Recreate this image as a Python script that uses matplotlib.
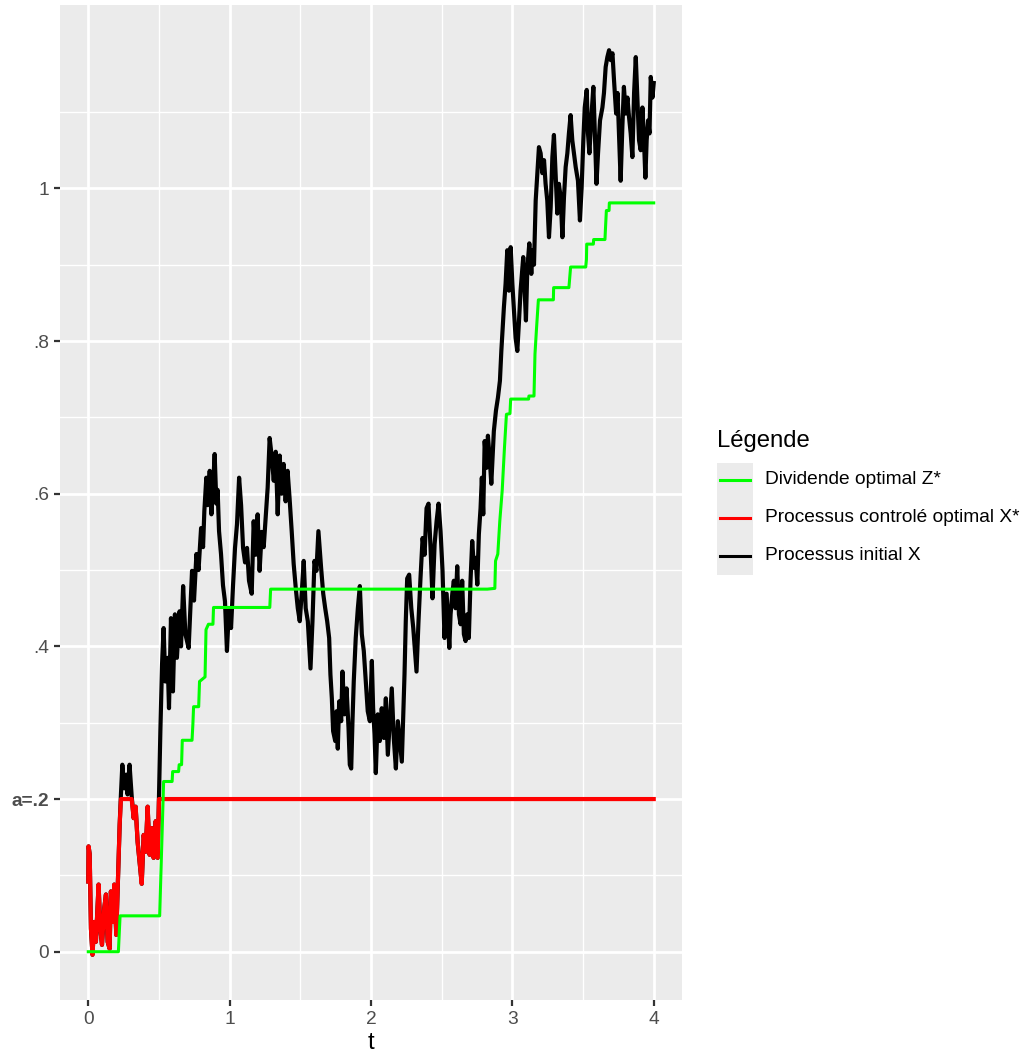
import matplotlib
matplotlib.use("Agg")
import matplotlib.pyplot as plt
from matplotlib.lines import Line2D
from matplotlib.patches import Rectangle

plt.rcParams['font.family'] = ['Liberation Sans', 'DejaVu Sans']

# --- Data ---
# Processus initial X (black path)
x_t = [0.000, 0.002, 0.010, 0.019, 0.030, 0.042, 0.054, 0.073, 0.085, 0.097,
       0.113, 0.125, 0.137, 0.151, 0.160, 0.175, 0.184, 0.198, 0.208, 0.222,
       0.231, 0.241, 0.255, 0.269, 0.278, 0.292, 0.307, 0.321, 0.335, 0.349,
       0.363, 0.378, 0.392, 0.406, 0.420, 0.434, 0.448, 0.462, 0.477, 0.491,
       0.500, 0.510, 0.522, 0.533, 0.545, 0.561, 0.571, 0.585, 0.599, 0.613,
       0.627, 0.646, 0.656, 0.671, 0.687, 0.710, 0.734, 0.748, 0.765, 0.780,
       0.798, 0.812, 0.821, 0.835, 0.845, 0.859, 0.871, 0.883, 0.894, 0.906,
       0.915, 0.925, 0.939, 0.953, 0.967, 0.981, 0.995, 1.010, 1.024, 1.038,
       1.052, 1.067, 1.081, 1.095, 1.109, 1.123, 1.137, 1.156, 1.170, 1.184,
       1.198, 1.212, 1.227, 1.241, 1.255, 1.269, 1.283, 1.297, 1.312, 1.326,
       1.340, 1.354, 1.368, 1.382, 1.396, 1.410, 1.424, 1.439, 1.453, 1.468,
       1.482, 1.496, 1.510, 1.524, 1.538, 1.553, 1.572, 1.586, 1.600, 1.614,
       1.628, 1.647, 1.662, 1.676, 1.690, 1.704, 1.713, 1.723, 1.732, 1.747,
       1.756, 1.765, 1.775, 1.789, 1.798, 1.812, 1.827, 1.841, 1.850, 1.860,
       1.869, 1.878, 1.892, 1.907, 1.921, 1.935, 1.949, 1.963, 1.977, 1.992,
       2.006, 2.015, 2.025, 2.034, 2.048, 2.062, 2.076, 2.091, 2.105, 2.119,
       2.133, 2.147, 2.161, 2.176, 2.190, 2.204, 2.218, 2.228, 2.237, 2.246,
       2.256, 2.270, 2.285, 2.299, 2.313, 2.322, 2.336, 2.350, 2.365, 2.379,
       2.393, 2.407, 2.421, 2.435, 2.450, 2.464, 2.478, 2.492, 2.506, 2.520,
       2.535, 2.554, 2.563, 2.575, 2.586, 2.598, 2.610, 2.622, 2.634, 2.645,
       2.657, 2.669, 2.681, 2.692, 2.704, 2.716, 2.728, 2.740, 2.752, 2.763,
       2.775, 2.784, 2.794, 2.804, 2.818, 2.827, 2.841, 2.851, 2.860, 2.869,
       2.884, 2.898, 2.912, 2.922, 2.940, 2.952, 2.964, 2.976, 2.988, 3.000,
       3.011, 3.023, 3.035, 3.046, 3.058, 3.077, 3.087, 3.096, 3.106, 3.120,
       3.134, 3.143, 3.153, 3.165, 3.177, 3.188, 3.200, 3.212, 3.224, 3.235,
       3.247, 3.259, 3.271, 3.283, 3.294, 3.306, 3.318, 3.329, 3.342, 3.354,
       3.365, 3.377, 3.389, 3.400, 3.412, 3.424, 3.448, 3.464, 3.478, 3.490,
       3.502, 3.512, 3.526, 3.535, 3.545, 3.559, 3.573, 3.582, 3.595, 3.606,
       3.620, 3.637, 3.648, 3.660, 3.672, 3.684, 3.696, 3.708, 3.719, 3.734,
       3.744, 3.754, 3.766, 3.778, 3.789, 3.802, 3.814, 3.825, 3.837, 3.849,
       3.861, 3.873, 3.885, 3.896, 3.908, 3.920, 3.931, 3.941, 3.950, 3.960,
       3.970, 3.979, 3.991, 4.000]
x_val = [0.092, 0.138, 0.128, 0.030, -0.004, 0.039, 0.013, 0.088, 0.030, 0.009,
         0.057, 0.075, 0.013, 0.004, 0.079, 0.039, 0.088, 0.022, 0.083, 0.166,
         0.206, 0.245, 0.214, 0.232, 0.206, 0.245, 0.204, 0.175, 0.190, 0.144,
         0.118, 0.089, 0.153, 0.131, 0.190, 0.127, 0.162, 0.123, 0.171, 0.123,
         0.200, 0.289, 0.377, 0.424, 0.354, 0.385, 0.319, 0.437, 0.341, 0.442,
         0.385, 0.446, 0.400, 0.479, 0.416, 0.398, 0.499, 0.460, 0.521, 0.500,
         0.555, 0.530, 0.577, 0.621, 0.585, 0.630, 0.573, 0.610, 0.652, 0.587,
         0.605, 0.551, 0.521, 0.480, 0.459, 0.394, 0.450, 0.424, 0.480, 0.529,
         0.560, 0.621, 0.585, 0.529, 0.510, 0.529, 0.486, 0.469, 0.564, 0.520,
         0.573, 0.499, 0.550, 0.530, 0.568, 0.608, 0.673, 0.650, 0.617, 0.655,
         0.573, 0.650, 0.600, 0.639, 0.590, 0.630, 0.594, 0.551, 0.508, 0.476,
         0.450, 0.433, 0.470, 0.512, 0.450, 0.433, 0.371, 0.433, 0.512, 0.499,
         0.551, 0.503, 0.469, 0.450, 0.433, 0.411, 0.363, 0.332, 0.289, 0.276,
         0.315, 0.266, 0.328, 0.302, 0.367, 0.311, 0.345, 0.293, 0.245, 0.240,
         0.302, 0.354, 0.411, 0.450, 0.479, 0.416, 0.394, 0.354, 0.315, 0.302,
         0.381, 0.319, 0.285, 0.234, 0.311, 0.276, 0.319, 0.280, 0.332, 0.258,
         0.302, 0.345, 0.280, 0.240, 0.302, 0.276, 0.249, 0.311, 0.363, 0.433,
         0.489, 0.494, 0.450, 0.424, 0.389, 0.367, 0.433, 0.489, 0.542, 0.520,
         0.581, 0.587, 0.530, 0.463, 0.534, 0.564, 0.587, 0.551, 0.499, 0.411,
         0.469, 0.398, 0.442, 0.469, 0.486, 0.450, 0.505, 0.442, 0.429, 0.486,
         0.416, 0.407, 0.442, 0.411, 0.486, 0.538, 0.503, 0.516, 0.481, 0.547,
         0.581, 0.621, 0.573, 0.669, 0.634, 0.676, 0.643, 0.613, 0.647, 0.682,
         0.709, 0.726, 0.748, 0.787, 0.844, 0.875, 0.919, 0.866, 0.923, 0.875,
         0.840, 0.804, 0.787, 0.823, 0.866, 0.910, 0.866, 0.827, 0.896, 0.928,
         0.888, 0.919, 0.900, 0.984, 1.020, 1.054, 1.046, 1.020, 1.037, 1.006,
         0.984, 0.936, 0.975, 1.041, 1.070, 1.020, 0.967, 1.006, 0.988, 0.936,
         0.988, 1.028, 1.046, 1.072, 1.096, 1.063, 1.028, 1.010, 0.958, 1.001,
         1.063, 1.106, 1.129, 1.072, 1.046, 1.094, 1.133, 1.080, 1.006, 1.046,
         1.089, 1.106, 1.125, 1.159, 1.172, 1.181, 1.168, 1.177, 1.142, 1.098,
         1.125, 1.072, 1.010, 1.080, 1.133, 1.098, 1.119, 1.094, 1.072, 1.041,
         1.125, 1.172, 1.115, 1.063, 1.050, 1.106, 1.063, 1.014, 1.063, 1.089,
         1.072, 1.146, 1.119, 1.138]

# Processus controlé optimal X* (red path, reflected at a = .2)
xs_t = [0.000, 0.002, 0.010, 0.019, 0.030, 0.042, 0.054, 0.073, 0.085, 0.097,
        0.113, 0.125, 0.137, 0.151, 0.160, 0.175, 0.184, 0.198, 0.208, 0.222,
        0.231, 0.307, 0.321, 0.335, 0.349, 0.363, 0.378, 0.392, 0.406, 0.420,
        0.434, 0.448, 0.462, 0.477, 0.491, 0.500, 4.000]
xs_val = [0.092, 0.138, 0.128, 0.030, -0.004, 0.039, 0.013, 0.088, 0.030, 0.009,
          0.057, 0.075, 0.013, 0.004, 0.079, 0.039, 0.088, 0.022, 0.083, 0.166,
          0.200, 0.200, 0.175, 0.190, 0.144, 0.118, 0.089, 0.153, 0.131, 0.190,
          0.127, 0.162, 0.123, 0.171, 0.123, 0.200, 0.200]

# Dividende optimal Z* (green staircase)
z_t = [0.000, 0.213, 0.225, 0.505, 0.533, 0.593, 0.597, 0.639, 0.643, 0.660,
       0.665, 0.734, 0.740, 0.745, 0.781, 0.787, 0.826, 0.833, 0.850, 0.882,
       0.886, 1.284, 1.290, 2.823, 2.876, 2.881, 2.897, 2.911, 2.928, 2.944,
       2.958, 2.983, 2.988, 3.115, 3.117, 3.153, 3.160, 3.170, 3.184, 3.290,
       3.292, 3.400, 3.412, 3.519, 3.524, 3.526, 3.573, 3.575, 3.655, 3.658,
       3.665, 3.684, 3.686, 4.000]
z_val = [0.000, 0.000, 0.047, 0.047, 0.223, 0.223, 0.236, 0.236, 0.245, 0.245,
         0.277, 0.277, 0.298, 0.321, 0.321, 0.354, 0.360, 0.422, 0.429, 0.429,
         0.451, 0.451, 0.475, 0.475, 0.476, 0.512, 0.521, 0.564, 0.604, 0.660,
         0.704, 0.705, 0.724, 0.724, 0.728, 0.728, 0.783, 0.814, 0.854, 0.854,
         0.870, 0.870, 0.897, 0.897, 0.907, 0.927, 0.927, 0.933, 0.933, 0.945,
         0.971, 0.971, 0.981, 0.981]

y_ticks = [0, 0.2, 0.4, 0.6, 0.8, 1.0]
y_ticklabels = ['0', 'a=.2', '.4', '.6', '.8', '1']
x_ticks = [0, 1, 2, 3, 4]

legend_labels = ['Dividende optimal Z*', 'Processus controlé optimal X*', 'Processus initial X']
legend_colors = ['#00FF00', '#FF0000', '#000000']

# --- Figure ---
W, H = 1026, 1055
fig = plt.figure(figsize=(W / 100, H / 100), dpi=100)
ax = fig.add_axes([60 / W, 55 / H, 622 / W, 995 / H])
ax.set_facecolor('#EBEBEB')

ax.plot(x_t, x_val, color='black', lw=3.0, zorder=3, solid_joinstyle='round')
ax.plot(xs_t, xs_val, color='#FF0000', lw=3.0, zorder=4, solid_joinstyle='round')
ax.plot(z_t, z_val, color='#00FF00', lw=2.2, zorder=5)

# ggplot-like 5% expansion
all_y = x_val + xs_val + z_val
lo, hi = min(all_y), max(all_y)
pad = 0.05 * (hi - lo)
ax.set_ylim(lo - pad, hi + pad)
ax.set_xlim(-0.2, 4.2)

ax.set_xticks(x_ticks)
ax.set_xticklabels([str(v) for v in x_ticks])
ax.set_yticks(y_ticks)
ax.set_yticklabels(y_ticklabels)
ax.set_xticks([0.5, 1.5, 2.5, 3.5], minor=True)
ax.set_yticks([0.1, 0.3, 0.5, 0.7, 0.9, 1.1], minor=True)
ax.tick_params(which='major', length=4.3, width=1.6, color='#333333',
               labelsize=13.75, labelcolor='#4D4D4D', pad=3.4)
ax.tick_params(which='minor', length=0)
ax.get_yticklabels()[1].set_fontweight('bold')

ax.grid(which='major', color='white', lw=2.0)
ax.grid(which='minor', color='white', lw=1.0)
ax.set_axisbelow(True)
for s in ax.spines.values():
    s.set_visible(False)

ax.set_xlabel('t', fontsize=17.2, color='black', labelpad=3)

# --- Legend (ggplot style) ---
fig.text(717 / W, 1 - 441 / H, 'Légende', fontsize=17.2, va='center', ha='left')
fig.add_artist(Rectangle((717 / W, 1 - 575 / H), 36 / W, 112 / H,
                         transform=fig.transFigure, facecolor='#EBEBEB',
                         edgecolor='none'))
key_y = [480, 518, 556]
for lab, col, yy in zip(legend_labels, legend_colors, key_y):
    fig.add_artist(Line2D([720 / W, 750 / W], [1 - yy / H, 1 - yy / H],
                          transform=fig.transFigure, color=col, lw=2.2))
    fig.text(765 / W, 1 - yy / H, lab, fontsize=13.75, va='center', ha='left')

fig.savefig('out.png', dpi=100)
